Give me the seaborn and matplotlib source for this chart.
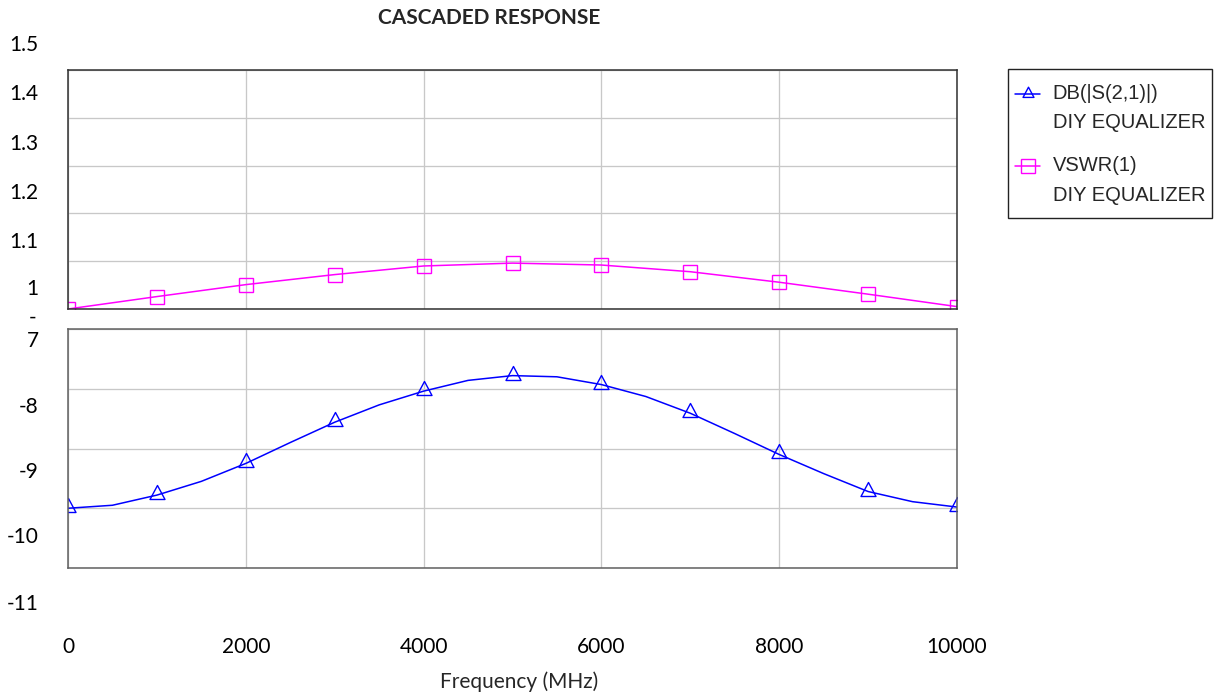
import matplotlib
matplotlib.use("Agg")
import matplotlib.pyplot as plt
from matplotlib.path import Path
from matplotlib.transforms import ScaledTranslation
import seaborn as sns

# VSWR(1) - DIY EQUALIZER
freq_vswr = [0, 1000, 2000, 3000, 4000, 5000, 6000, 7000, 8000, 9000, 10000]
vswr = [1.000, 1.026, 1.051, 1.072, 1.090, 1.096, 1.092, 1.078, 1.056, 1.031, 1.005]

# DB(|S(2,1)|) - DIY EQUALIZER, read every 500 MHz (markers every 1000)
freq_db = [0, 500, 1000, 1500, 2000, 2500, 3000, 3500, 4000, 4500, 5000,
           5500, 6000, 6500, 7000, 7500, 8000, 8500, 9000, 9500, 10000]
s21_db = [-10.00, -9.95, -9.78, -9.55, -9.25, -8.90, -8.56, -8.27, -8.04, -7.86, -7.78,
          -7.80, -7.93, -8.13, -8.41, -8.75, -9.10, -9.42, -9.72, -9.89, -9.98]

x_ticks = [0, 2000, 4000, 6000, 8000, 10000]
vswr_ticks = [1.0, 1.1, 1.2, 1.3, 1.4, 1.5]
vswr_labels = ["1", "1.1", "1.2", "1.3", "1.4", "1.5"]
db_ticks = [-7, -8, -9, -10, -11]
db_labels = ["-\n7", "-8", "-9", "-10", "-11"]

legend_labels = ["DB(|S(2,1)|)\nDIY EQUALIZER", "VSWR(1)\nDIY EQUALIZER"]

sns.set_theme(style="white")
plt.rcParams['font.family'] = ['Lato', 'DejaVu Sans']

W, H = 1214, 698
fig = plt.figure(figsize=(W / 100, H / 100), dpi=100)
fig.patch.set_facecolor("white")

ax_top = fig.add_axes([68 / W, 1 - 309 / H, (957 - 68) / W, (309 - 70) / H])
ax_bot = fig.add_axes([68 / W, 1 - 568 / H, (957 - 68) / W, (568 - 329) / H])

# triangle sitting a bit above its point, like the original
tri = Path([(0, 10), (-7.5, -4), (7.5, -4), (0, 10)],
           [Path.MOVETO, Path.LINETO, Path.LINETO, Path.CLOSEPOLY])

sns.lineplot(x=freq_vswr, y=vswr, ax=ax_top, color="#ff00ff", lw=1.1,
             marker="s", markersize=10.5, markerfacecolor="none",
             markeredgecolor="#ff00ff", markeredgewidth=1.0,
             estimator=None, legend=False)
sns.lineplot(x=freq_db, y=s21_db, ax=ax_bot, color="#0000ff", lw=1.1,
             marker=tri, markevery=2, markersize=14.4, markerfacecolor="none",
             markeredgecolor="#0000ff", markeredgewidth=1.0,
             estimator=None, legend=False)

for ax, spine_col in [(ax_top, "#303030"), (ax_bot, "#606060")]:
    ax.set_xlim(0, 10000)
    ax.set_xticks(x_ticks)
    ax.grid(True, color="#c8c8c8", lw=0.95)
    ax.set_axisbelow(True)
    ax.set_xlabel("")
    ax.set_ylabel("")
    for s in ax.spines.values():
        s.set_color(spine_col)
        s.set_linewidth(1.1)
    ax.tick_params(axis="both", length=0, labelsize=15, colors="black")
    ax.tick_params(axis="y", pad=21)

ax_top.set_ylim(1.0, 1.5)
ax_top.set_yticks(vswr_ticks, vswr_labels)
ax_top.tick_params(axis="x", labelbottom=False)

ax_bot.set_ylim(-11, -7)
ax_bot.set_yticks(db_ticks, db_labels)
ax_bot.tick_params(axis="x", pad=50)

# the original's y labels drift away from their gridlines
def shift_labels(ax, offsets_px):
    for lab, dy in zip(ax.get_yticklabels(), offsets_px):
        lab.set_transform(lab.get_transform() +
                          ScaledTranslation(0, -dy / 100, fig.dpi_scale_trans))

shift_labels(ax_top, [-22, -21, -22, -24, -26, -27])
shift_labels(ax_bot, [-3, 16, 22, 27, 34])
ax_bot.get_yticklabels()[0].set_multialignment("center")

ax_bot.set_xlabel("Frequency (MHz)", fontsize=15, va="center")
ax_bot.xaxis.set_label_coords((519 - 68) / 889, (568 - 682) / 239)

fig.text(489 / W, 1 - 18 / H, "CASCADED RESPONSE", ha="center", va="center",
         fontsize=15, fontweight="bold")

# legend box drawn separately so the padding can differ per side
fig.add_artist(plt.Rectangle((1008 / W, 1 - 218 / H), 204 / W, 149 / H,
                             transform=fig.transFigure, fill=False,
                             edgecolor="#222222", lw=1.0))
leg = fig.legend(handles=[ax_bot.lines[-1], ax_top.lines[-1]], labels=legend_labels,
                 loc="upper left", bbox_to_anchor=(1015 / W, 1 - 84 / H),
                 frameon=False, borderaxespad=0, borderpad=0,
                 prop={"family": ["Liberation Sans", "DejaVu Sans"], "size": 14.5},
                 handlelength=1.25, handletextpad=0.63, labelspacing=1.2)
for t in leg.get_texts():
    t.set_linespacing(1.68)
for h in leg.legend_handles:
    h.set_markevery([1])
    h.set_transform(h.get_transform() + ScaledTranslation(0, 14.5 / 100, fig.dpi_scale_trans))
leg.legend_handles[0].set_markersize(10.5)

fig.savefig("out.png", dpi=100, facecolor="white")
